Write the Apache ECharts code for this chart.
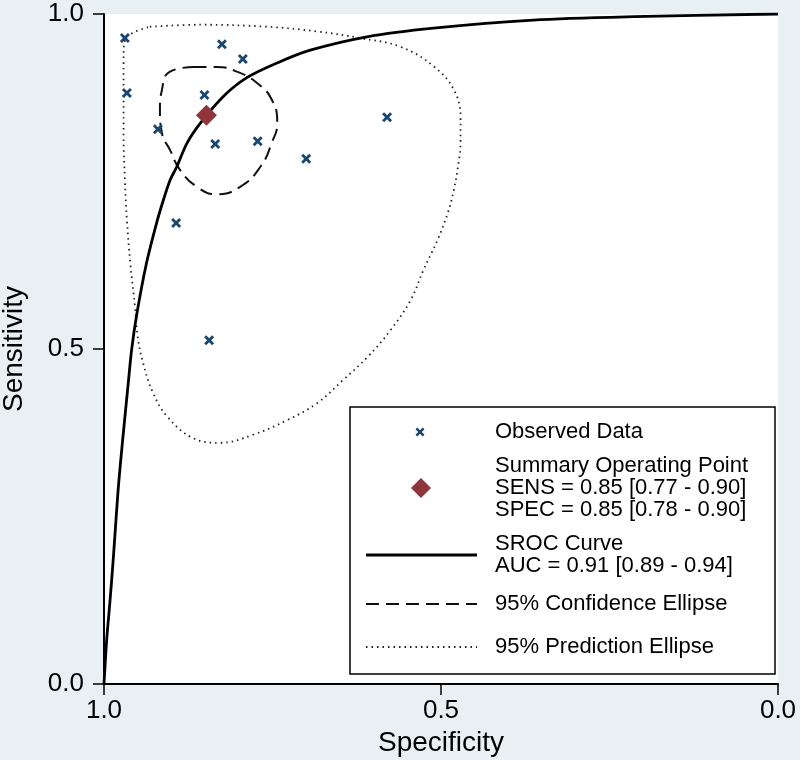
<!DOCTYPE html>
<html>
<head>
<meta charset="utf-8">
<script src="https://cdn.jsdelivr.net/npm/echarts@6/dist/echarts.min.js"></script>
<style>
  html, body { margin: 0; padding: 0; background: #e8f0f3; }
  #sroc { width: 800px; height: 760px; }
</style>
</head>
<body>
<div id="sroc"></div>
<script>
// observed studies (specificity, sensitivity)
const obsSpec = [0.969, 0.825, 0.794, 0.966, 0.851, 0.920, 0.835, 0.772, 0.700, 0.580, 0.893, 0.844];
const obsSens = [0.964, 0.955, 0.933, 0.882, 0.879, 0.828, 0.806, 0.810, 0.784, 0.846, 0.688, 0.513];

// summary operating point
const sumSpec = [0.848];
const sumSens = [0.849];

// SROC curve
const srocSpec = [1.0, 0.996, 0.991, 0.986, 0.979, 0.973, 0.964, 0.959, 0.951, 0.937, 0.922, 0.912, 0.902, 0.892, 0.877, 0.857, 0.823, 0.788, 0.743, 0.694, 0.610, 0.511, 0.363, 0.214, 0.0];
const srocSens = [0.0, 0.066, 0.125, 0.190, 0.290, 0.357, 0.449, 0.499, 0.554, 0.628, 0.688, 0.722, 0.752, 0.772, 0.807, 0.837, 0.877, 0.905, 0.927, 0.946, 0.966, 0.979, 0.991, 0.996, 1.0];

// 95% confidence ellipse
const confSpec = [0.867, 0.833, 0.803, 0.773, 0.751, 0.743, 0.751, 0.768, 0.798, 0.833, 0.862, 0.887, 0.902, 0.914, 0.917, 0.914, 0.902, 0.867];
const confSens = [0.921, 0.921, 0.914, 0.897, 0.872, 0.837, 0.808, 0.772, 0.742, 0.731, 0.742, 0.767, 0.797, 0.822, 0.857, 0.887, 0.914, 0.921];

// 95% prediction ellipse
const predSpec = [0.932, 0.857, 0.758, 0.684, 0.620, 0.560, 0.511, 0.481, 0.471, 0.471, 0.474, 0.481, 0.490, 0.505, 0.526, 0.545, 0.575, 0.609, 0.645, 0.684, 0.728, 0.779, 0.828, 0.868, 0.906, 0.927, 0.942, 0.950, 0.954, 0.961, 0.966, 0.969, 0.971, 0.971, 0.971, 0.969, 0.957, 0.932];
const predSens = [0.981, 0.984, 0.981, 0.974, 0.964, 0.951, 0.922, 0.887, 0.846, 0.808, 0.778, 0.737, 0.703, 0.663, 0.618, 0.573, 0.528, 0.488, 0.454, 0.419, 0.394, 0.372, 0.360, 0.367, 0.399, 0.434, 0.479, 0.518, 0.563, 0.628, 0.693, 0.752, 0.822, 0.872, 0.931, 0.961, 0.972, 0.981];

const pairs = (xs, ys) => xs.map((x, i) => [x, ys[i]]);

const crossPath = "path://M2,0L5,3L8,0L10,2L7,5L10,8L8,10L5,7L2,10L0,8L3,5L0,2Z";
const diamondPath = "path://M5,0L10,5L5,10L0,5Z";
const font = "Liberation Sans";
const navy = "#1a476f";
const cranberry = "#90353b";

const chart = echarts.init(document.getElementById("sroc"));

const axisCommon = {
  type: "value",
  min: 0,
  max: 1,
  interval: 0.5,
  axisLine: { show: true, onZero: false, lineStyle: { color: "#000", width: 2 } },
  axisTick: { show: true, length: 11, lineStyle: { color: "#000", width: 1.5 } },
  axisLabel: {
    color: "#000",
    fontFamily: font,
    fontSize: 26,
    formatter: (v) => v.toFixed(1),
  },
  splitLine: { show: false },
  nameLocation: "middle",
  nameTextStyle: { color: "#000", fontFamily: font, fontSize: 28 },
};

// legend box, drawn by hand like Stata
const lx = 350, ly = 407;
const legendText = (x, y, text) => ({
  type: "text",
  x: x,
  y: y,
  style: { text: text, fill: "#000", font: "22px " + font, verticalAlign: "middle" },
  z: 110,
});

// small cross for the legend, centred on (cx, cy)
const crossPoints = (cx, cy, s) =>
  [[2, 0], [5, 3], [8, 0], [10, 2], [7, 5], [10, 8], [8, 10], [5, 7], [2, 10], [0, 8], [3, 5], [0, 2]]
    .map((p) => [cx + (p[0] - 5) * s / 10, cy + (p[1] - 5) * s / 10]);

const option = {
  backgroundColor: "#e8f0f3",
  animation: false,
  grid: {
    left: 104,
    right: 22,
    top: 14,
    bottom: 76,
    outerBoundsMode: "none",
    show: true,
    backgroundColor: "#fff",
    borderWidth: 0,
  },
  xAxis: Object.assign({}, axisCommon, {
    inverse: true,
    name: "Specificity",
    nameGap: 42,
    axisLabel: Object.assign({}, axisCommon.axisLabel, { margin: 14 }),
  }),
  yAxis: Object.assign({}, axisCommon, {
    name: "Sensitivity",
    nameGap: 76,
    axisLabel: Object.assign({}, axisCommon.axisLabel, { margin: 20 }),
  }),
  series: [
    {
      name: "95% Prediction Ellipse",
      type: "line",
      data: pairs(predSpec, predSens),
      smooth: 0.4,
      symbol: "none",
      lineStyle: { color: "#222", width: 1.8, type: [1.5, 4] },
      z: 2,
    },
    {
      name: "95% Confidence Ellipse",
      type: "line",
      data: pairs(confSpec, confSens),
      smooth: 0.5,
      symbol: "none",
      lineStyle: { color: "#111", width: 2, type: [13, 7] },
      z: 3,
    },
    {
      name: "SROC Curve",
      type: "line",
      data: pairs(srocSpec, srocSens),
      smooth: 0.3,
      symbol: "none",
      lineStyle: { color: "#000", width: 2.8 },
      z: 4,
      // left axis line (specificity = 1)
      markLine: {
        silent: true,
        symbol: "none",
        label: { show: false },
        lineStyle: { color: "#000", width: 2, type: "solid" },
        data: [{ xAxis: 1 }],
      },
    },
    {
      name: "Observed Data",
      type: "scatter",
      data: pairs(obsSpec, obsSens),
      symbol: crossPath,
      symbolSize: 10,
      itemStyle: { color: navy, opacity: 1 },
      z: 5,
    },
    {
      name: "Summary Operating Point",
      type: "scatter",
      data: pairs(sumSpec, sumSens),
      symbol: diamondPath,
      symbolSize: 21,
      itemStyle: { color: cranberry, opacity: 1 },
      z: 6,
    },
  ],
  graphic: [
    {
      type: "rect",
      shape: { x: lx, y: ly, width: 425, height: 267 },
      style: { fill: "#fff", stroke: "#000", lineWidth: 1.5 },
      z: 100,
    },
    {
      type: "polygon",
      shape: { points: crossPoints(420, 432, 9) },
      style: { fill: navy },
      z: 110,
    },
    legendText(495, 432, "Observed Data"),
    {
      type: "polygon",
      shape: { points: [[421, 478], [431, 488], [421, 498], [411, 488]] },
      style: { fill: cranberry },
      z: 110,
    },
    legendText(495, 466, "Summary Operating Point"),
    legendText(495, 488, "SENS = 0.85 [0.77 - 0.90]"),
    legendText(495, 510, "SPEC = 0.85 [0.78 - 0.90]"),
    {
      type: "line",
      shape: { x1: 366, y1: 555, x2: 477, y2: 555 },
      style: { stroke: "#000", lineWidth: 2.8 },
      z: 110,
    },
    legendText(495, 544, "SROC Curve"),
    legendText(495, 566, "AUC = 0.91 [0.89 - 0.94]"),
    {
      type: "line",
      shape: { x1: 366, y1: 604, x2: 477, y2: 604 },
      style: { stroke: "#111", lineWidth: 2, lineDash: [13, 7] },
      z: 110,
    },
    legendText(495, 604, "95% Confidence Ellipse"),
    {
      type: "line",
      shape: { x1: 366, y1: 647, x2: 477, y2: 647 },
      style: { stroke: "#222", lineWidth: 1.8, lineDash: [1.5, 4] },
      z: 110,
    },
    legendText(495, 647, "95% Prediction Ellipse"),
  ],
};

option && chart.setOption(option);
</script>
</body>
</html>
